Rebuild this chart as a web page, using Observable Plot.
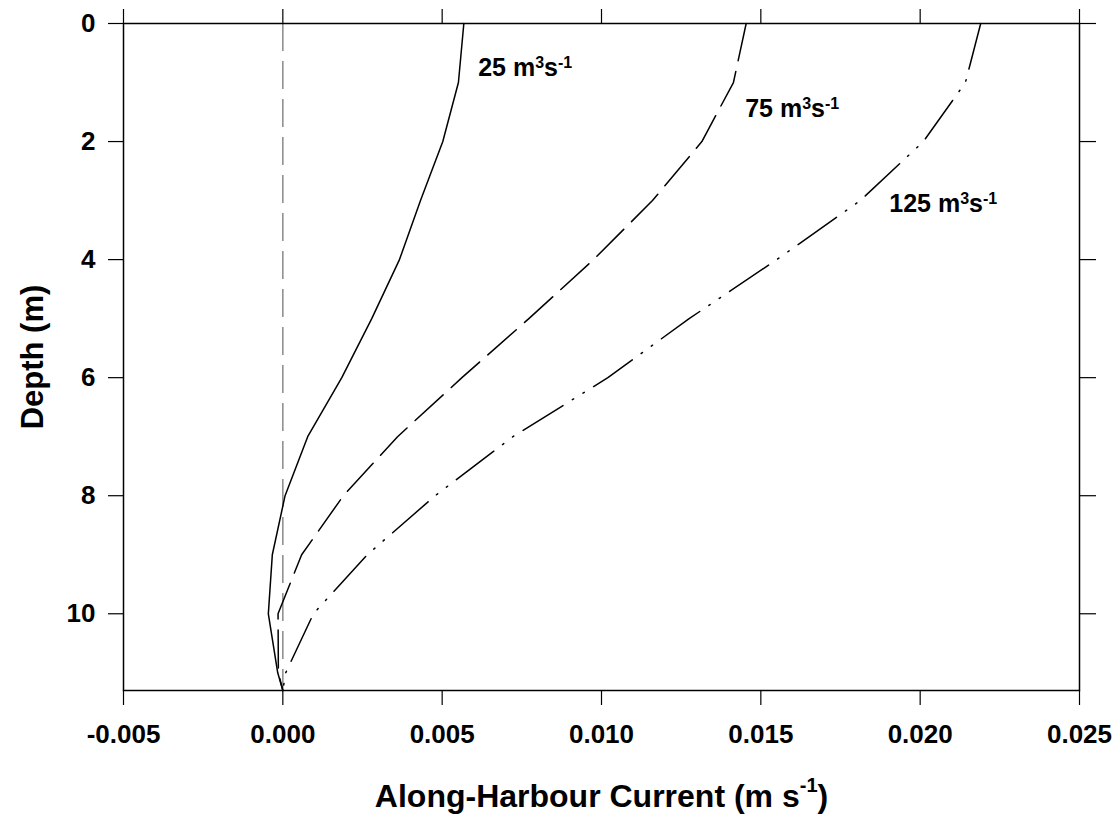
<!DOCTYPE html>
<html><head><meta charset="utf-8">
<script src="https://cdn.jsdelivr.net/npm/d3@7"></script>
<script src="https://cdn.jsdelivr.net/npm/@observablehq/plot@0.6"></script>
<style>body{margin:0;background:#fff}</style>
</head><body><div id="chart"></div>
<script>
const depth = [0, 1, 2, 3, 4, 5, 6, 7, 8, 9, 10, 11, 11.3];
const current25 = [0.00568, 0.00551, 0.00502, 0.00432, 0.00366, 0.00279, 0.00185, 0.00078, 0.00007, -0.00033, -0.000455, -0.00016, 0];
const current75 = [0.01454, 0.01414, 0.01315, 0.01160, 0.00975, 0.00772, 0.00562, 0.00360, 0.00190, 0.00059, -0.00015, -0.00014, 0];
const current125 = [0.02190, 0.02142, 0.02010, 0.01812, 0.01550, 0.01275, 0.01020, 0.00722, 0.00478, 0.00265, 0.00096, 0.00009, 0];
const xTicks = [-0.005, 0, 0.005, 0.010, 0.015, 0.020, 0.025];
const xTickLabels = ["-0.005", "0.000", "0.005", "0.010", "0.015", "0.020", "0.025"];
const yTicks = [0, 2, 4, 6, 8, 10];
const yTickLabels = ["0", "2", "4", "6", "8", "10"];
const seriesLabels = ["25 m3 s-1", "75 m3 s-1", "125 m3 s-1"];
const labelCurrent = [0.00613, 0.01451, 0.01903];
const labelDepth = [0.89, 1.585, 3.195];
const xTitle = "Along-Harbour Current (m s-1)";
const yTitle = "Depth (m)";

const rows = (vals) => depth.map((d, i) => ({depth: d, v: vals[i]}));
const labels = seriesLabels.map((t, i) => ({text: t, v: labelCurrent[i], depth: labelDepth[i]}));

const plot = Plot.plot({
  width: 1120,
  height: 820,
  marginLeft: 123,
  marginRight: 41,
  marginTop: 23,
  marginBottom: 130,
  style: {fontFamily: "'Liberation Sans', Arial, sans-serif", fontWeight: "bold", fontSize: "26px", color: "#000", background: "#fff"},
  x: {domain: [-0.005, 0.025]},
  y: {domain: [0, 11.3], reverse: true},
  marks: [
    Plot.ruleX([0], {stroke: "#8a8a8a", strokeWidth: 1.5, strokeDasharray: "28,10"}),
    Plot.line(rows(current25), {x: "v", y: "depth", stroke: "#000", strokeWidth: 1.5}),
    Plot.line(rows(current75), {x: "v", y: "depth", stroke: "#000", strokeWidth: 1.5, strokeDasharray: "38,11"}),
    Plot.line(rows(current125), {x: "v", y: "depth", stroke: "#000", strokeWidth: 1.5, strokeDasharray: "47,11,1.5,11,1.5,11"}),
    Plot.text(labels, {x: "v", y: "depth", text: "text", textAnchor: "start", lineAnchor: "bottom", fontSize: 25, fontWeight: "bold", fill: "#000"}),
    Plot.frame({stroke: "#000", strokeWidth: 1.5}),
    Plot.axisX({anchor: "bottom", ticks: xTicks, tickFormat: d => xTickLabels[xTicks.indexOf(d)], tickSize: 15, tickPadding: 19, label: null, fontSize: 26, fontWeight: "bold", stroke: "#000", strokeWidth: 1.2}),
    Plot.axisX({anchor: "top", ticks: xTicks, tickFormat: () => "", tickSize: 15, label: null, stroke: "#000", strokeWidth: 1.2}),
    Plot.axisY({anchor: "left", ticks: yTicks, tickFormat: d => yTickLabels[yTicks.indexOf(d)], tickSize: 15, tickPadding: 13, label: null, fontSize: 26, fontWeight: "bold", stroke: "#000", strokeWidth: 1.2}),
    Plot.axisY({anchor: "right", ticks: yTicks, tickFormat: () => "", tickSize: 16, label: null, stroke: "#000", strokeWidth: 1.2}),
    Plot.text([xTitle], {frameAnchor: "bottom", textAnchor: "middle", dy: 116.5, lineAnchor: "bottom", fontSize: 32, fontWeight: "bold", fill: "#000"}),
    Plot.text([yTitle], {frameAnchor: "left", textAnchor: "middle", dx: -81, rotate: -90, lineAnchor: "bottom", fontSize: 31, fontWeight: "bold", fill: "#000"})
  ]
});

// superscripts for units
const supParts = {
  "25 m3 s-1": [["25 m", 0], ["3", 1], ["s", 0], ["-1", 1]],
  "75 m3 s-1": [["75 m", 0], ["3", 1], ["s", 0], ["-1", 1]],
  "125 m3 s-1": [["125 m", 0], ["3", 1], ["s", 0], ["-1", 1]],
  "Along-Harbour Current (m s-1)": [["Along-Harbour Current (m s", 0], ["-1", 1], [")", 0]]
};
d3.select(plot).selectAll("text").each(function () {
  const parts = supParts[this.textContent];
  if (!parts) return;
  const big = this.textContent.startsWith("Along");
  const supSize = big ? 20 : 16;
  const shift = big ? 15 : 8;
  const el = d3.select(this);
  el.text("");
  let raised = false;
  for (const [s, sup] of parts) {
    const ts = el.append("tspan").text(s);
    if (sup && !raised) { ts.attr("dy", -shift).attr("font-size", supSize); raised = true; }
    else if (sup) { ts.attr("font-size", supSize); }
    else if (!sup && raised) { ts.attr("dy", shift); raised = false; }
  }
});

document.getElementById("chart").appendChild(plot);
</script>
</body></html>
